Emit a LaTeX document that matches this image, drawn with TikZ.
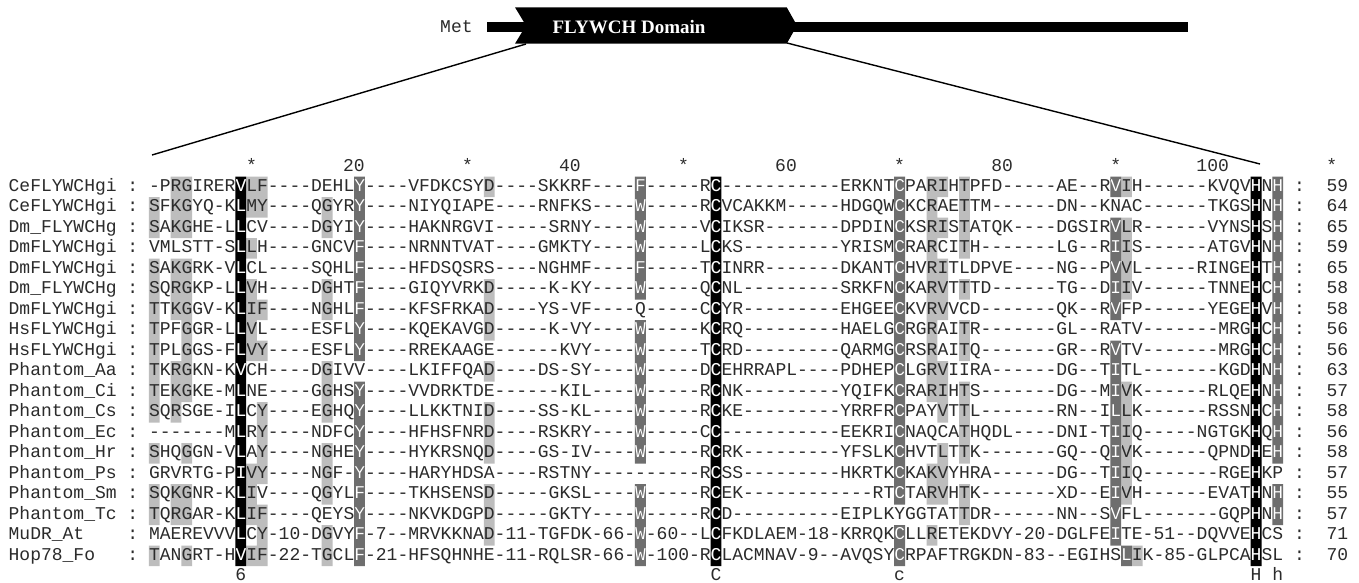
\documentclass[tikz,border=0pt]{standalone}
\usepackage{fontspec}
\setmainfont{Liberation Serif}
\setmonofont{Liberation Mono}
\usetikzlibrary{positioning}
\definecolor{seqgray}{HTML}{2B2B2B}
\definecolor{lightcell}{HTML}{BDBDBD}
\definecolor{darkcell}{HTML}{6E6E6E}

\newcommand\colw{10.8018}
\newcommand\seqdata{%
1/CeFLYWCHgi/-PRGIRERVLF----DEHLY----VFDKCSYD----SKKRF----F-----RC-----------ERKNTCPARIHTPFD-----AE--RVIH------KVQVHNH/59,
2/CeFLYWCHgi/SFKGYQ-KLMY----QGYRY----NIYQIAPE----RNFKS----W-----RCVCAKKM-----HDGQWCKCRAETTM------DN--KNAC------TKGSHNH/64,
3/Dm\_FLYWCHg/SAKGHE-LLCV----DGYIY----HAKNRGVI-----SRNY----W-----VCIKSR-------DPDINCKSRISTATQK----DGSIRVLR------VYNSHSH/65,
4/DmFLYWCHgi/VMLSTT-SLLH----GNCVF----NRNNTVAT----GMKTY----W-----LCKS---------YRISMCRARCITH-------LG--RIIS------ATGVHNH/59,
5/DmFLYWCHgi/SAKGRK-VLCL----SQHLF----HFDSQSRS----NGHMF----F-----TCINRR-------DKANTCHVRITLDPVE----NG--PVVL-----RINGEHTH/65,
6/Dm\_FLYWCHg/SQRGKP-LLVH----DGHTF----GIQYVRKD-----K-KY----W-----QCNL---------SRKFNCKARVTTTD------TG--DIIV------TNNEHCH/58,
7/DmFLYWCHgi/TTKGGV-KLIF----NGHLF----KFSFRKAD----YS-VF----Q-----CCYR---------EHGEECKVRVVCD-------QK--RVFP------YEGEHVH/58,
8/HsFLYWCHgi/TPFGGR-LLVL----ESFLY----KQEKAVGD-----K-VY----W-----KCRQ---------HAELGCRGRAITR-------GL--RATV-------MRGHCH/56,
9/HsFLYWCHgi/TPLGGS-FLVY----ESFLY----RREKAAGE------KVY----W-----TCRD---------QARMGCRSRAITQ-------GR--RVTV-------MRGHCH/56,
10/Phantom\_Aa/TKRGKN-KVCH----DGIVV----LKIFFQAD----DS-SY----W-----DCEHRRAPL----PDHEPCLGRVIIRA------DG--TITL-------KGDHNH/63,
11/Phantom\_Ci/TEKGKE-MLNE----GGHSY----VVDRKTDE------KIL----W-----RCNK---------YQIFKCRARIHTS-------DG--MIVK------RLQEHNH/57,
12/Phantom\_Cs/SQRSGE-ILCY----EGHQY----LLKKTNID----SS-KL----W-----RCKE---------YRRFRCPAYVTTL-------RN--ILLK------RSSNHCH/58,
13/Phantom\_Ec/-------MLRY----NDFCY----HFHSFNRD----RSKRY----W-----CC-----------EEKRICNAQCATHQDL----DNI-TIIQ-----NGTGKHQH/56,
14/Phantom\_Hr/SHQGGN-VLAY----NGHEY----HYKRSNQD----GS-IV----W-----RCRK---------YFSLKCHVTLTTK-------GQ--QIVK------QPNDHEH/58,
15/Phantom\_Ps/GRVRTG-PIVY----NGF-Y----HARYHDSA----RSTNY----------RCSS---------HKRTKCKAKVYHRA------DG--TIIQ-------RGEHKP/57,
16/Phantom\_Sm/SQKGNR-KLIV----QGYLF----TKHSENSD-----GKSL----W-----RCEK------------RTCTARVHTK-------XD--EIVH------EVATHNH/55,
17/Phantom\_Tc/TQRGAR-KLIF----QEYSY----NKVKDGPD-----GKTY----W-----RCD----------EIPLKYGGTATTDR------NN--SVFL-------GQPHNH/57,
18/MuDR\_At/MAEREVVVLCY-10-DGVYF-7--MRVKKNAD-11-TGFDK-66-W-60--LCFKDLAEM-18-KRRQKCLLRETEKDVY-20-DGLFEITE-51--DQVVEHCS/71,
19/Hop78\_Fo/TANGRT-HVIF-22-TGCLF-21-HFSQHNHE-11-RQLSR-66-W-100-RCLACMNAV-9--AVQSYCRPAFTRGKDN-83--EGIHSLIK-85-GLPCAHSL/70}
\newcommand\lightcells{1/{2,3,5,6,7,8,9,10,11,12,14,16,17,19}, 3/{1,2,3,5,6,7,10,11,12,16,17},
  4/{1,2,3,5,6,7,8,9,10,11,14,16,17,19}, 10/{1,2,4,6,7,8,9,15,16,17,19},
  11/{1,2,7,9,12,13,14,15,17,18,19}, 17/{2,3,6,7,10,11,12,14,15,16,18,19},
  32/{1,6,7,8,10,12,13,14,16,17,18}, 73/{1,2,3,4,5,6,7,8,9,10,11,15,16,18},
  74/{1,3,5,6,7,10,11,12,14,15,16}, 76/{1,2,3,4,6,8,9,11,12,13,14,16,17},
  91/{1,3,4,5,6,11,12,13,14,15,16}, 92/{19}}
\newcommand\darkcells{20/{1,2,3,4,5,6,7,8,9,11,12,13,14,15,16,17,18,19},
  46/{1,2,3,4,5,6,8,9,10,11,12,13,14,16,17,18,19},
  70/{1,2,3,4,5,6,7,8,9,10,11,12,13,14,15,16,18,19},
  90/{1,3,4,5,6,7,9,10,11,12,13,14,15,16,17,18}, 91/{19},
  105/{1,2,3,4,5,6,7,8,9,10,11,12,13,14,16,17}}
\newcommand\blackcells{9/{1,...,19}, 53/{1,...,19}, 103/{1,...,19}}
\newcommand\drawseqs[1]{%
  \foreach \r/\nm/\sq/\num in \seqdata
    \node[seq, text=#1] (sq#1\r) at (148.9,{191.3+(\r-1)*20.5}) {\sq};}

\begin{document}
\begin{tikzpicture}[x=1pt, y=-1pt,
  seq/.style={anchor=base west, inner sep=0pt, font=\ttfamily\fontsize{18}{18}\selectfont, text=seqgray},
  mid/.style={seq, anchor=base},
  zoomline/.style={line width=1.4pt, black},
  domtitle/.style={anchor=base, inner sep=0pt, text=white, font=\rmfamily\bfseries\fontsize{19}{19}\selectfont}]
  \path[use as bounding box, fill=white] (0,0) rectangle (1359,583);
  \fill (486.7,21.7) rectangle (1188,31.7);
  \fill (515,7.3) -- (786.7,7.3) -- (797,25.5) -- (786.7,43.7) -- (515,43.7) -- (526,25.5) -- cycle;
  \node[seq] (met) at (440,32.5) {Met};
  \node[domtitle] (domain) at (629,33.5) {FLYWCH Domain};
  \coordinate (domL) at (526,44);
  \coordinate (domR) at (787,43);
  \coordinate (alnL) at (152,155);
  \coordinate (alnR) at (1260,164);
  \draw[zoomline] (domL) -- (alnL);
  \draw[zoomline] (domR) -- (alnR);
  \foreach \c in {10,30,...,110}
    \node[mid] (star\c) at ({148.9+(\c-0.5)*\colw},171.5) {*};
  \foreach \c in {20,40,...,100}
    \node[seq, anchor=base east] (tick\c) at ({148.9+\c*\colw},171.5) {\c};
  \fill[lightcell] \foreach \c/\rs in \lightcells {\foreach \r in \rs {({148.9+(\c-1)*\colw},{176.7+(\r-1)*20.5}) rectangle ++(\colw,20.5)}};
  \fill[darkcell] \foreach \c/\rs in \darkcells {\foreach \r in \rs {({148.9+(\c-1)*\colw},{176.7+(\r-1)*20.5}) rectangle ++(\colw,20.5)}};
  \fill[black] \foreach \c/\rs in \blackcells {\foreach \r in \rs {({148.9+(\c-1)*\colw},{176.7+(\r-1)*20.5}) rectangle ++(\colw,20.5)}};
  \foreach \r/\nm/\sq/\num in \seqdata {
    \node[seq] (name\r) at ({148.9-13*\colw},{191.3+(\r-1)*20.5}) {\nm};
    \node[seq] (cola\r) at ({148.9-2*\colw},{191.3+(\r-1)*20.5}) {:};
    \node[seq] (colb\r) at ({148.9+106*\colw},{191.3+(\r-1)*20.5}) {:};
    \node[seq] (len\r) at ({148.9+109*\colw},{191.3+(\r-1)*20.5}) {\num};
  }
  \drawseqs{seqgray}
  \begin{scope}
    \clip \foreach \c/\rs in \darkcells {\foreach \r in \rs {({148.9+(\c-1)*\colw},{176.7+(\r-1)*20.5}) rectangle ++(\colw,20.5)}}
          \foreach \c/\rs in \blackcells {\foreach \r in \rs {({148.9+(\c-1)*\colw},{176.7+(\r-1)*20.5}) rectangle ++(\colw,20.5)}};
    \drawseqs{white}
  \end{scope}
  \foreach \c/\ch in {9/6,53/C,70/c,103/H,105/h}
    \node[mid] (cons\c) at ({148.9+(\c-0.5)*\colw},580.5) {\ch};
\end{tikzpicture}
\end{document}
